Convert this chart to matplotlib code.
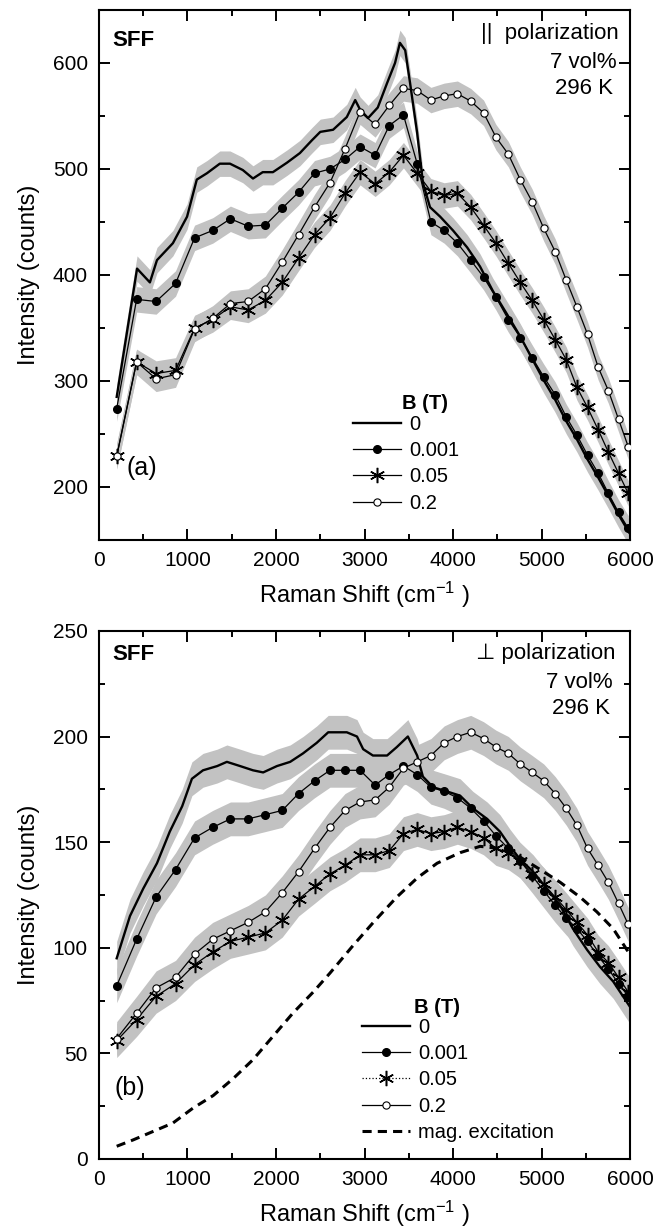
import numpy as np
import matplotlib.pyplot as plt
from matplotlib.lines import Line2D
from matplotlib.ticker import MultipleLocator

plt.rcParams['font.family'] = ['Liberation Sans', 'DejaVu Sans']
plt.rcParams['mathtext.fontset'] = 'custom'
plt.rcParams['mathtext.rm'] = 'Liberation Sans'
plt.rcParams['mathtext.default'] = 'regular'

# Raman shift positions of the marked points (cm^-1)
X_GRID = [200, 425, 645, 865, 1080, 1285, 1485, 1685, 1880, 2070, 2255, 2435, 2610,
          2780, 2950, 3120, 3280, 3440, 3595, 3750, 3900, 4050, 4200, 4345, 4485,
          4625, 4760, 4895, 5025, 5155, 5280, 5400, 5520, 5640, 5755, 5870, 5980]

# (a) parallel polarization
X0_TOP = [200, 430, 575, 655, 835, 995, 1105, 1220, 1365, 1480, 1625, 1740, 1850, 1965,
          2125, 2270, 2405, 2500, 2645, 2800, 2895, 2950, 3040, 3150, 3255, 3345, 3400,
          3460, 3515, 3595, 3660, 3740, 3855, 4000, 4160, 4305, 4450, 4610, 4760, 4900,
          5030, 5150, 5280, 5400, 5520, 5640, 5760, 5870, 5990]
Y0_TOP = [285, 406, 393, 414, 430, 455, 490, 496, 505, 505, 499, 491, 497, 497,
          506, 515, 527, 535, 537, 549, 565, 556, 548, 558, 581, 600, 619,
          612, 581, 534, 487, 464, 455, 442, 426, 408, 385, 363, 342, 320,
          300, 283, 262, 245, 226, 209, 191, 174, 157]
Y001_TOP = [274, 377, 375, 392, 435, 442, 453, 446, 447, 463, 478, 496, 500, 509, 521,
            513, 541, 551, 505, 450, 442, 430, 414, 398, 379, 358, 341, 322, 304, 287,
            266, 249, 230, 213, 194, 176, 161]
Y005_TOP = [229, 318, 307, 310, 350, 358, 370, 367, 376, 393, 416, 438, 454, 477, 497,
            486, 497, 513, 496, 479, 475, 477, 464, 447, 430, 411, 393, 376, 358, 339,
            320, 294, 275, 254, 233, 213, 194]
Y02_TOP = [229, 318, 302, 306, 349, 359, 373, 375, 387, 412, 438, 464, 487, 519, 554,
           542, 560, 576, 574, 565, 569, 571, 564, 553, 530, 514, 490, 469, 444, 422,
           395, 370, 344, 313, 291, 264, 238]

# (b) perpendicular polarization
X0_BOT = [200, 350, 500, 655, 800, 940, 1050, 1175, 1335, 1445, 1595, 1740, 1855, 2010,
          2160, 2305, 2460, 2590, 2645, 2800, 2915, 2985, 3095, 3255, 3365, 3490, 3595,
          3660, 3775, 3930, 4080, 4225, 4385, 4530, 4645, 4755, 4905, 5060, 5210, 5355,
          5515, 5660, 5810, 6000]
Y0_BOT = [95, 115, 128, 140, 155, 167, 180, 184, 186, 188, 186, 184, 183, 186,
          188, 192, 197, 202, 202, 202, 200, 194, 191, 191, 195, 200, 191,
          181, 176, 174, 172, 166, 161, 155, 148, 142, 136, 128, 120, 109,
          99, 91, 84, 72]
Y001_BOT = [82, 104, 124, 137, 152, 157, 161, 161, 163, 165, 173, 179, 184, 184, 184,
            177, 182, 186, 182, 176, 174, 171, 166, 160, 153, 147, 141, 134, 127, 120,
            114, 109, 103, 96, 90, 83, 77]
Y005_BOT = [56, 66, 77, 83, 92, 98, 103, 105, 107, 113, 123, 129, 135, 139, 144,
            144, 146, 154, 156, 154, 155, 157, 155, 152, 147, 145, 141, 135, 130, 124,
            118, 112, 106, 98, 93, 86, 79]
Y02_BOT = [57, 69, 81, 86, 97, 104, 108, 112, 117, 126, 136, 147, 157, 165, 169,
           170, 176, 185, 188, 191, 197, 200, 202, 199, 195, 192, 187, 183, 179, 173,
           166, 158, 147, 139, 131, 121, 111]

X_MAG = [200, 385, 610, 835, 1060, 1290, 1515, 1740, 1965, 2190, 2420, 2610, 2870, 3100,
         3365, 3595, 3820, 4080, 4305, 4530, 4755, 4985, 5210, 5435, 5625, 5810, 5965, 6000]
Y_MAG = [6, 9, 13, 17, 24, 30, 38, 47, 58, 69, 79, 88, 101, 112,
         124, 133, 140, 145, 148, 147, 143, 137, 131, 124, 117, 109, 99, 97]

LEGEND_LABELS = ['0', '0.001', '0.05', '0.2']
GREY = '#c2c2c2'
STAR = (6, 2, 0)


def band(ax, x, y, w):
    y = np.asarray(y, dtype=float)
    ax.fill_between(x, y - w, y + w, color=GREY, lw=0, zorder=1)


def draw_panel(ax, x0, y0, y001, y005, y02, noise):
    for xs, ys in [(x0, y0), (X_GRID, y001), (X_GRID, y005), (X_GRID, y02)]:
        band(ax, xs, ys, noise)
    ax.plot(x0, y0, color='black', lw=1.7, zorder=3)
    ax.plot(X_GRID, y001, color='black', lw=0.9, marker='o', ms=5.5, zorder=4)
    ax.plot(X_GRID, y005, color='black', lw=0.9, marker=STAR, ms=11, mew=1.1, zorder=4)
    ax.plot(X_GRID, y02, color='black', lw=0.9, marker='o', ms=5.2, mfc='white',
            mec='black', mew=0.8, zorder=5)


def style_axes(ax, ymin, ymax, ymajor, yminor):
    ax.set_xlim(0, 6000)
    ax.set_ylim(ymin, ymax)
    ax.xaxis.set_major_locator(MultipleLocator(1000))
    ax.xaxis.set_minor_locator(MultipleLocator(500))
    ax.yaxis.set_major_locator(MultipleLocator(ymajor))
    ax.yaxis.set_minor_locator(MultipleLocator(yminor))
    ax.tick_params(which='both', direction='in', top=True, right=True, width=1.4,
                   labelsize=15)
    ax.tick_params(which='major', length=8, pad=8)
    ax.tick_params(which='minor', length=4.5)
    for s in ax.spines.values():
        s.set_linewidth(1.5)
    ax.set_xlabel('Raman Shift (cm$^{-1}$ )', fontsize=17, labelpad=7)
    ax.set_ylabel('Intensity (counts)', fontsize=17, labelpad=9)


def handles(dotted_star=False):
    return [
        Line2D([], [], color='black', lw=1.7),
        Line2D([], [], color='black', lw=0.9, marker='o', ms=5.5),
        Line2D([], [], color='black', lw=0.9, ls=':' if dotted_star else '-',
               marker=STAR, ms=11, mew=1.1),
        Line2D([], [], color='black', lw=0.9, marker='o', ms=5.2, mfc='white', mec='black',
               mew=0.8),
    ]


fig = plt.figure(figsize=(6.53, 12.32), dpi=100)
ax1 = fig.add_axes([0.1516, 0.5617, 0.8132, 0.4302])
ax2 = fig.add_axes([0.1516, 0.0593, 0.8132, 0.4286])

# panel (a)
draw_panel(ax1, X0_TOP, Y0_TOP, Y001_TOP, Y005_TOP, Y02_TOP, 12)
style_axes(ax1, 150, 650, 100, 50)
ax1.text(0.026, 0.942, 'SFF', transform=ax1.transAxes, fontsize=16, fontweight='bold',
         va='center', ha='left')
ax1.text(0.979, 0.955, '||  polarization', transform=ax1.transAxes, fontsize=16,
         va='center', ha='right')
ax1.text(0.975, 0.900, '7 vol%', transform=ax1.transAxes, fontsize=16,
         va='center', ha='right')
ax1.text(0.968, 0.852, '296 K', transform=ax1.transAxes, fontsize=16,
         va='center', ha='right')
ax1.text(0.052, 0.135, '(a)', transform=ax1.transAxes, fontsize=18, va='center')
ax1.text(0.571, 0.257, 'B (T)', transform=ax1.transAxes, fontsize=14.5, fontweight='bold',
         va='center')
ax1.legend(handles(), LEGEND_LABELS, loc='upper left', bbox_to_anchor=(0.478, 0.236),
           frameon=False, fontsize=14.5, handlelength=2.4, handletextpad=0.4,
           labelspacing=0.36, borderpad=0, borderaxespad=0)

# panel (b)
draw_panel(ax2, X0_BOT, Y0_BOT, Y001_BOT, Y005_BOT, Y02_BOT, 8)
ax2.plot(X_MAG, Y_MAG, color='black', lw=2.2, ls=(0, (3, 2)), zorder=6)
style_axes(ax2, 0, 250, 50, 25)
ax2.text(0.026, 0.955, 'SFF', transform=ax2.transAxes, fontsize=16, fontweight='bold',
         va='center', ha='left')
ax2.text(0.972, 0.958, '\u22a5 polarization', transform=ax2.transAxes, fontsize=16,
         va='center', ha='right')
ax2.text(0.968, 0.903, '7 vol%', transform=ax2.transAxes, fontsize=16,
         va='center', ha='right')
ax2.text(0.962, 0.854, '296 K', transform=ax2.transAxes, fontsize=16,
         va='center', ha='right')
ax2.text(0.030, 0.135, '(b)', transform=ax2.transAxes, fontsize=18, va='center')
ax2.text(0.593, 0.286, 'B (T)', transform=ax2.transAxes, fontsize=14.5, fontweight='bold',
         va='center')
h2 = handles(dotted_star=True) + [Line2D([], [], color='black', lw=2.2, ls=(0, (3, 2)))]
ax2.legend(h2, LEGEND_LABELS + ['mag. excitation'], loc='upper left',
           bbox_to_anchor=(0.495, 0.267), frameon=False, fontsize=14.5, handlelength=2.4,
           handletextpad=0.4, labelspacing=0.36, borderpad=0, borderaxespad=0)

fig.savefig('out.png', dpi=100)
